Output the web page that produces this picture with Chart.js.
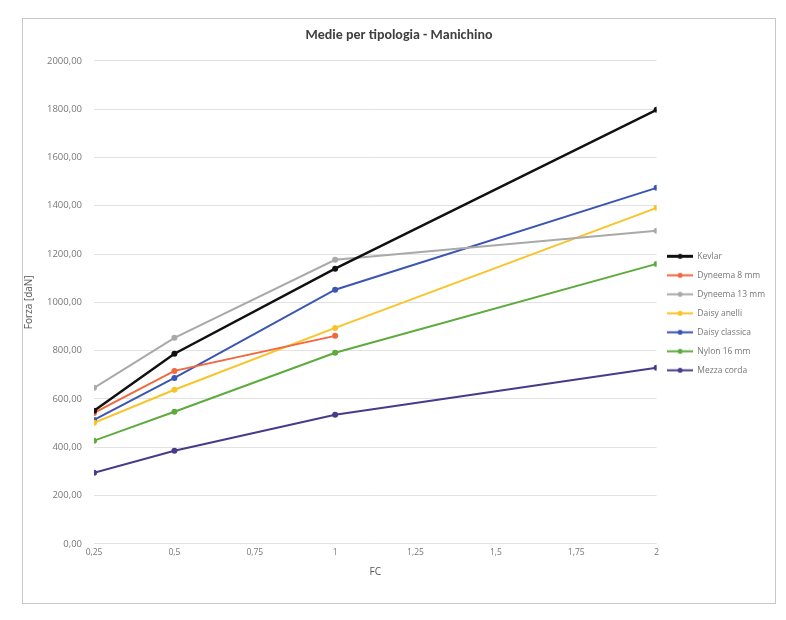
<!DOCTYPE html>
<html>
<head>
<meta charset="utf-8">
<script src="https://cdn.jsdelivr.net/npm/chart.js@4.4.1/dist/chart.umd.min.js"></script>
<style>
  html, body { margin: 0; padding: 0; background: #fff; }
  #wrap { position: absolute; left: 22px; top: 18px; width: 754px; height: 586px; border: 1px solid #c8c8c8; box-sizing: border-box; }
  canvas { display: block; }
</style>
</head>
<body>
<div id="wrap"><canvas id="chart" width="752" height="584"></canvas></div>
<script>
const fcValues = [0.25, 0.5, 1, 2];
const xTicks = [0.25, 0.5, 0.75, 1, 1.25, 1.5, 1.75, 2];

const seriesNames = ['Kevlar', 'Dyneema 8 mm', 'Dyneema 13 mm', 'Daisy anelli', 'Daisy classica', 'Nylon 16 mm', 'Mezza corda'];
const kevlar = [551, 787, 1139, 1797];
const dyneema8 = [542, 716, 861];
const dyneema13 = [646, 853, 1176, 1296];
const daisyAnelli = [501, 638, 894, 1391];
const daisyClassica = [513, 687, 1052, 1474];
const nylon16 = [427, 547, 791, 1159];
const mezzaCorda = [294, 385, 534, 729];

const seriesValues = [kevlar, dyneema8, dyneema13, daisyAnelli, daisyClassica, nylon16, mezzaCorda];
const colors = ['#111111', '#f2673d', '#a9a9a9', '#f7c52a', '#3b55b3', '#5dab3c', '#4a3a8a'];

function pts(values) {
    return values.map((v, i) => ({ x: fcValues[i], y: v }));
}

// little "line + dot" marker for the legend
function legendIcon(color, width) {
    const c = document.createElement('canvas');
    c.width = 26; c.height = 7;
    const g = c.getContext('2d');
    g.strokeStyle = color;
    g.lineWidth = width;
    g.beginPath(); g.moveTo(0, 3.5); g.lineTo(26, 3.5); g.stroke();
    g.fillStyle = color;
    g.beginPath(); g.arc(13, 3.5, 2.5, 0, Math.PI * 2); g.fill();
    return c;
}

const comma = (v, d) => v.toFixed(d).replace('.', ',');
const xLabel = (v) => String(v).replace('.', ',');

const datasets = seriesNames.map((name, i) => ({
    label: name,
    data: pts(seriesValues[i]),
    borderColor: colors[i],
    backgroundColor: colors[i],
    borderWidth: i === 0 ? 2.5 : 2,
    pointRadius: 3,
    pointStyle: 'circle',
    pointBackgroundColor: colors[i],
    pointBorderWidth: 0,
    showLine: true,
    tension: 0
}));

new Chart(document.getElementById('chart').getContext('2d'), {
    type: 'scatter',
    data: { datasets: datasets },
    options: {
        responsive: false,
        animation: false,
        layout: { padding: { left: 0, right: 0, top: 2, bottom: 21 } },
        plugins: {
            title: {
                display: true,
                text: 'Medie per tipologia - Manichino',
                color: '#404040',
                font: { family: 'Calibri, Carlito, "Open Sans", sans-serif', size: 14, weight: 'bold' },
                padding: { top: 6, bottom: 17 }
            },
            legend: {
                position: 'right',
                title: {
                    display: true,
                    text: ' ',
                    font: { size: 8 },
                    padding: 7
                },
                labels: {
                    usePointStyle: true,
                    pointStyleWidth: 26,
                    boxHeight: 7,
                    padding: 10.5,
                    color: '#777',
                    font: { family: '"Open Sans", sans-serif', size: 8.5 },
                    generateLabels: (chart) => chart.data.datasets.map((ds, i) => ({
                        text: ds.label,
                        pointStyle: legendIcon(ds.borderColor, i === 0 ? 3 : 2),
                        fontColor: '#777',
                        lineWidth: 0,
                        strokeStyle: ds.borderColor,
                        fillStyle: ds.borderColor,
                        datasetIndex: i,
                        hidden: false
                    }))
                }
            },
            tooltip: { enabled: false }
        },
        scales: {
            x: {
                type: 'linear',
                min: 0.25,
                max: 2,
                afterBuildTicks: (axis) => { axis.ticks = xTicks.map(v => ({ value: v })); },
                grid: { display: false, drawTicks: false },
                border: { display: false },
                ticks: {
                    color: '#777',
                    padding: 4,
                    font: { family: '"Open Sans", sans-serif', size: 8.5 },
                    callback: (v) => xLabel(v)
                },
                title: {
                    display: true,
                    text: 'FC',
                    color: '#555',
                    font: { family: '"Open Sans", sans-serif', size: 10 },
                    padding: { top: 4 }
                }
            },
            y: {
                min: 0,
                max: 2000,
                ticks: {
                    stepSize: 200,
                    color: '#777',
                    padding: 12,
                    font: { family: '"Open Sans", sans-serif', size: 9.5 },
                    callback: (v) => comma(v, 2)
                },
                grid: { color: '#e2e2e2', drawTicks: false },
                border: { display: false },
                title: {
                    display: true,
                    text: 'Forza [daN]',
                    color: '#555',
                    font: { family: '"Open Sans", sans-serif', size: 10 },
                    padding: { top: 0, bottom: 0 }
                }
            }
        }
    }
});
</script>
</body>
</html>
